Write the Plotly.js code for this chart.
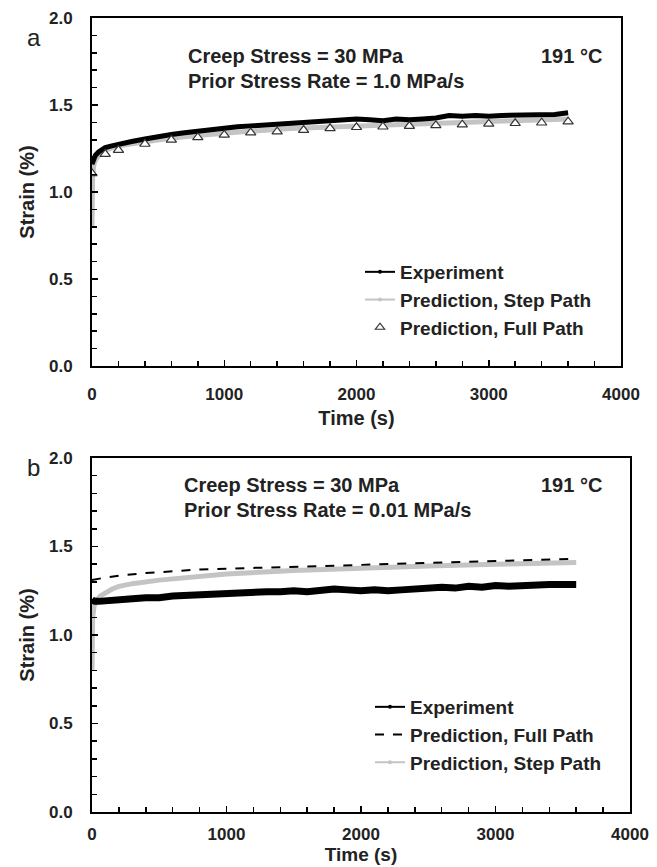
<!DOCTYPE html>
<html><head><meta charset="utf-8">
<script src="https://cdn.plot.ly/plotly-3.0.1.min.js"></script>
<style>html,body{margin:0;padding:0;background:#fff}#chart{width:657px;height:867px}</style>
</head><body><div id="chart"></div>
<script>
// ---- Panel a data ----
const expT_a = [0,10,25,50,75,100,150,200,300,400,500,600,700,800,900,1000,1100,1200,1300,1400,1500,1600,1700,1800,1900,2000,2100,2200,2300,2400,2500,2600,2700,2800,2900,3000,3100,3200,3300,3400,3500,3600];
const exp_a  = [1.16,1.19,1.21,1.23,1.245,1.255,1.265,1.275,1.29,1.305,1.32,1.33,1.34,1.35,1.36,1.37,1.375,1.38,1.385,1.39,1.40,1.40,1.405,1.415,1.415,1.42,1.415,1.41,1.42,1.415,1.42,1.425,1.44,1.435,1.44,1.435,1.44,1.44,1.445,1.445,1.445,1.455];
const stepT_a = [0,2,5,15,30,60,100,200,400,600,800,1000,1200,1500,1800,2000,2400,2800,3200,3600];
const step_a  = [0.80,1.00,1.10,1.16,1.19,1.22,1.24,1.265,1.29,1.31,1.325,1.34,1.35,1.365,1.375,1.38,1.39,1.40,1.41,1.42];
const fullT_a = [0,100,200,400,600,800,1000,1200,1400,1600,1800,2000,2200,2400,2600,2800,3000,3200,3400,3600];
const full_a  = [1.107,1.218,1.241,1.276,1.299,1.314,1.328,1.341,1.347,1.356,1.366,1.372,1.375,1.379,1.383,1.387,1.391,1.395,1.398,1.404];

// ---- Panel b data ----
const expT_b = [0,20,50,100,200,300,400,500,600,700,800,900,1000,1100,1200,1300,1400,1500,1600,1700,1800,1900,2000,2100,2200,2300,2400,2500,2600,2700,2800,2900,3000,3100,3200,3300,3400,3500,3600];
const exp_b  = [1.20,1.19,1.19,1.195,1.20,1.205,1.21,1.21,1.22,1.225,1.23,1.235,1.235,1.24,1.24,1.245,1.245,1.25,1.245,1.25,1.26,1.255,1.25,1.255,1.25,1.255,1.26,1.265,1.27,1.265,1.275,1.27,1.28,1.275,1.28,1.28,1.285,1.285,1.285];
const fullT_b = [0,100,200,400,600,800,1000,1500,2000,2500,3000,3600];
const full_b  = [1.31,1.325,1.335,1.35,1.36,1.37,1.375,1.385,1.395,1.405,1.415,1.43];
const stepT_b = [0,2,5,15,30,60,100,150,200,300,500,750,1000,1500,2000,2500,3000,3600];
const step_b  = [0.80,1.00,1.10,1.16,1.19,1.22,1.24,1.26,1.275,1.29,1.31,1.33,1.345,1.365,1.38,1.39,1.40,1.41];

const xTickVals = [0,1000,2000,3000,4000];
const yTickVals = [0,0.5,1.0,1.5,2.0];
const legendA = ['Experiment','Prediction, Step Path','Prediction, Full Path'];
const legendB = ['Experiment','Prediction, Full Path','Prediction, Step Path'];

const W = 657, H = 867;
const px = v => v / W, py = v => 1 - v / H;
const FONT = 'Liberation Sans, Arial, sans-serif';
const GRAY = '#c4c4c4';
const TXT = '#222';

const traces = [
  {x: stepT_a, y: step_a, mode:'lines', xaxis:'x', yaxis:'y', showlegend:false, line:{color:GRAY, width:5}},
  {x: expT_a, y: exp_a, mode:'lines', xaxis:'x', yaxis:'y', showlegend:false, line:{color:'#000', width:5}},
  {x: fullT_a, y: full_a, mode:'markers', xaxis:'x', yaxis:'y', showlegend:false,
   marker:{symbol:'triangle-up', color:'#fff', size:9, line:{color:'#333', width:1.2}}},
  {x: stepT_b, y: step_b, mode:'lines', xaxis:'x2', yaxis:'y2', showlegend:false, line:{color:GRAY, width:5}},
  {x: expT_b, y: exp_b, mode:'lines', xaxis:'x2', yaxis:'y2', showlegend:false, line:{color:'#000', width:7}},
  {x: fullT_b, y: full_b, mode:'lines', xaxis:'x2', yaxis:'y2', showlegend:false, line:{color:'#000', width:2, dash:'dash'}},
  // legend entries (no data)
  {x:[null], y:[null], mode:'lines+markers', name:legendA[0], xaxis:'x', yaxis:'y', legend:'legend', legendgroup:'a1',
   line:{color:'#000', width:2}, marker:{color:'#000', size:4}},
  {x:[null], y:[null], mode:'lines+markers', name:legendA[1], xaxis:'x', yaxis:'y', legend:'legend', legendgroup:'a2',
   line:{color:GRAY, width:2}, marker:{color:GRAY, size:4}},
  {x:[null], y:[null], mode:'markers', name:legendA[2], xaxis:'x', yaxis:'y', legend:'legend', legendgroup:'a3',
   marker:{symbol:'triangle-up', color:'#fff', size:8, line:{color:'#333', width:1.2}}},
  {x:[null], y:[null], mode:'lines+markers', name:legendB[0], xaxis:'x2', yaxis:'y2', legend:'legend2', legendgroup:'b1',
   line:{color:'#000', width:2}, marker:{color:'#000', size:4}},
  {x:[null], y:[null], mode:'lines', name:legendB[1], xaxis:'x2', yaxis:'y2', legend:'legend2', legendgroup:'b2',
   line:{color:'#000', width:2, dash:'dash'}},
  {x:[null], y:[null], mode:'lines+markers', name:legendB[2], xaxis:'x2', yaxis:'y2', legend:'legend2', legendgroup:'b3',
   line:{color:GRAY, width:2}, marker:{color:GRAY, size:4}}
];

function xax(domain, labStandoff, standoff, titleSize){
  return {domain: domain, range:[0,4000], tickvals: xTickVals, ticks:'inside', ticklen:6, tickwidth:1.5, tickcolor:'#000',
    minor:{dtick:200, tick0:0, ticks:'inside', ticklen:5, tickwidth:1.5, tickcolor:'#000'},
    showline:true, mirror:true, linecolor:'#000', linewidth:2, showgrid:false, zeroline:false,
    ticklabelstandoff:labStandoff, tickfont:{family:FONT, size:17, color:TXT, weight:'bold'},
    title:{text:'Time (s)', standoff:standoff, font:{family:FONT, size:titleSize, color:TXT, weight:'bold'}}, fixedrange:true};
}
function yax(domain, anchor){
  return {domain: domain, anchor: anchor, range:[0,2], tickvals: yTickVals, tickformat:'.1f', ticks:'inside', ticklen:6, tickwidth:1.5, tickcolor:'#000',
    minor:{dtick:0.1, tick0:0, ticks:'inside', ticklen:5, tickwidth:1.5, tickcolor:'#000'},
    showline:true, mirror:true, linecolor:'#000', linewidth:2, showgrid:false, zeroline:false,
    ticklabelstandoff:14, tickfont:{family:FONT, size:17, color:TXT, weight:'bold'},
    title:{text:'Strain (%)', standoff:9, font:{family:FONT, size:20, color:TXT, weight:'bold'}}, fixedrange:true};
}

const annFont = {family:FONT, size:20, color:TXT, weight:'bold'};
const legFont = {family:FONT, size:19, color:TXT, weight:'bold'};
const layout = {
  width: W, height: H, margin:{l:0, r:0, t:0, b:0}, paper_bgcolor:'#fff', plot_bgcolor:'#fff',
  xaxis: Object.assign(xax([px(92), px(621)], 12, 8, 20), {anchor:'y'}),
  yaxis: yax([py(366), py(18)], 'x'),
  xaxis2: Object.assign(xax([px(92), px(630)], 6, 2, 19), {anchor:'y2'}),
  yaxis2: yax([py(812), py(458)], 'x2'),
  legend: {x: px(360), y: py(253), xanchor:'left', yanchor:'top', bgcolor:'rgba(0,0,0,0)', traceorder:'grouped',
    font:legFont, itemwidth:30, tracegroupgap:0},
  legend2: {x: px(370), y: py(688), xanchor:'left', yanchor:'top', bgcolor:'rgba(0,0,0,0)', traceorder:'grouped',
    font:legFont, itemwidth:30, tracegroupgap:0},
  annotations: [
    {text:'a', x:px(25), y:py(22), xref:'paper', yref:'paper', showarrow:false, font:{family:FONT, size:24, color:TXT}},
    {text:'b', x:px(25), y:py(467), xref:'paper', yref:'paper', showarrow:false, font:{family:FONT, size:24, color:TXT}},
    {text:'Creep Stress = 30 MPa', x:px(186), y:py(43), xref:'paper', yref:'paper', xanchor:'left', showarrow:false, font:annFont},
    {text:'Prior Stress Rate = 1.0 MPa/s', x:px(186), y:py(68), xref:'paper', yref:'paper', xanchor:'left', showarrow:false, font:annFont},
    {text:'191 °C', x:px(604), y:py(43), xref:'paper', yref:'paper', xanchor:'right', showarrow:false, font:annFont},
    {text:'Creep Stress = 30 MPa', x:px(182), y:py(485), xref:'paper', yref:'paper', xanchor:'left', showarrow:false, font:annFont},
    {text:'Prior Stress Rate = 0.01 MPa/s', x:px(182), y:py(510), xref:'paper', yref:'paper', xanchor:'left', showarrow:false, font:annFont},
    {text:'191 °C', x:px(604), y:py(485), xref:'paper', yref:'paper', xanchor:'right', showarrow:false, font:annFont}
  ]
};
Plotly.newPlot('chart', traces, layout, {staticPlot:true, displayModeBar:false});
</script></body></html>
